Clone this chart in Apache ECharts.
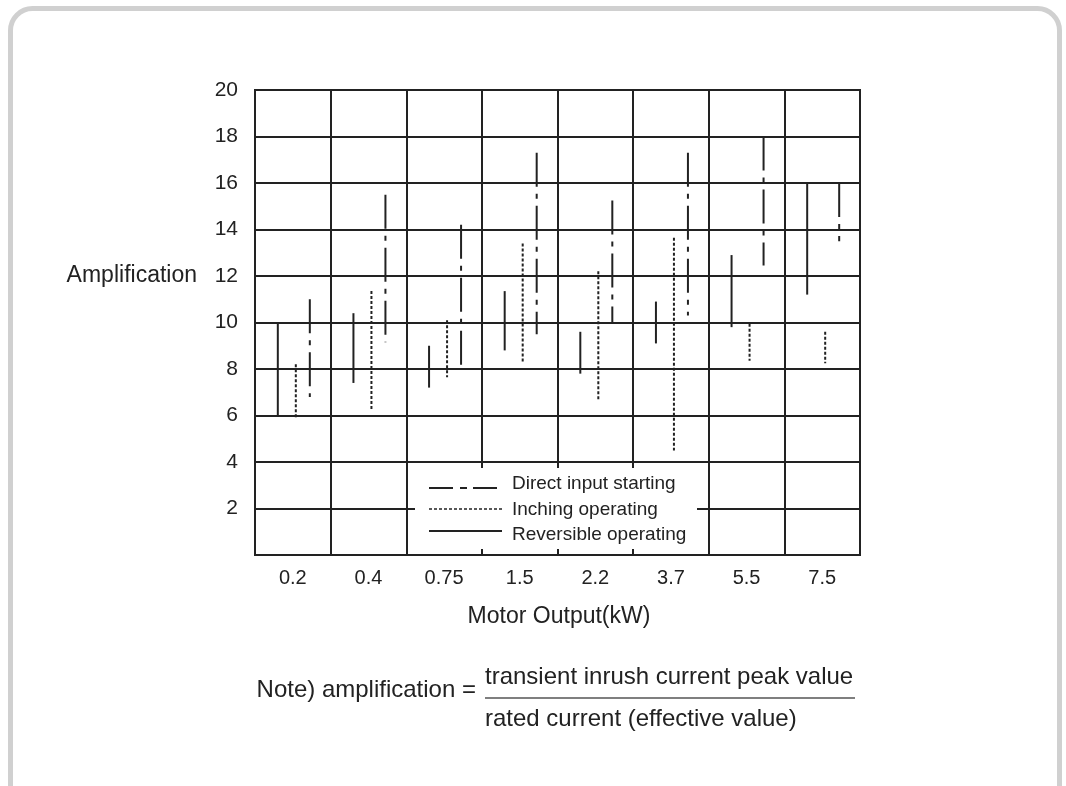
<!DOCTYPE html>
<html lang="en">
<head>
    <meta charset="utf-8">
    <title>Amplification vs Motor Output</title>
    <style>
        html, body { margin: 0; padding: 0; background: #fff; }
    </style>
</head>
<body>
    <div id="main" style="width:1066px;height:786px;"></div>

    <script src="https://cdn.jsdelivr.net/npm/echarts@6/dist/echarts.min.js"></script>
    <script type="text/javascript">

        var myChart = echarts.init(document.getElementById('main'));

        // data
        var categories = ['0.2', '0.4', '0.75', '1.5', '2.2', '3.7', '5.5', '7.5'];
        var yTicks = [2, 4, 6, 8, 10, 12, 14, 16, 18, 20];

        // Reversible operating (solid)
        var reversibleLow  = [6.0, 7.4, 7.2, 8.8, 7.8, 9.1, 9.8, 11.2];
        var reversibleHigh = [10.0, 10.4, 9.0, 11.35, 9.6, 10.9, 12.9, 16.0];
        // Inching operating (dotted)
        var inchingLow  = [5.9, 6.25, 7.65, 8.25, 6.65, 4.5, 8.35, 8.25];
        var inchingHigh = [8.2, 11.35, 10.1, 13.4, 12.2, 13.65, 9.95, 9.6];
        // Direct input starting (dash-dot)
        var directLow  = [6.8, 9.15, 7.9, 9.5, 10.0, 10.3, 12.45, 13.5];
        var directHigh = [11.0, 15.5, 14.2, 17.3, 15.25, 17.3, 18.0, 16.0];

        var ink = '#222';
        var font = "'Liberation Sans', Arial, sans-serif";

        function toData(lo, hi) {
            var out = [];
            for (var i = 0; i < lo.length; i++) out.push([i, lo[i], hi[i]]);
            return out;
        }

        // draws a vertical range line, shifted sideways inside the category band
        function rangeRender(offset, dash, width) {
            return function (params, api) {
                var x = api.value(0);
                var lo = api.coord([x, api.value(1)]);
                var hi = api.coord([x, api.value(2)]);
                return {
                    type: 'line',
                    shape: { x1: hi[0] + offset, y1: hi[1], x2: lo[0] + offset, y2: lo[1] },
                    style: { stroke: ink, lineWidth: width, lineDash: dash, fill: null }
                };
            };
        }

        var option = {
            backgroundColor: '#fff',
            animation: false,
            grid: {
                show: true,
                left: 255,
                top: 90,
                width: 605,
                height: 465,
                borderColor: ink,
                borderWidth: 2
            },
            xAxis: {
                type: 'category',
                data: categories,
                boundaryGap: true,
                axisLine: { show: true, lineStyle: { color: ink, width: 2 } },
                axisTick: { show: false },
                splitLine: { show: true, lineStyle: { color: ink, width: 2 } },
                axisLabel: {
                    color: ink,
                    fontFamily: font,
                    fontSize: 20,
                    margin: 13
                }
            },
            yAxis: {
                type: 'value',
                min: 0,
                max: 20,
                interval: 2,
                axisLine: { show: true, lineStyle: { color: ink, width: 2 } },
                axisTick: { show: false },
                splitLine: { show: true, lineStyle: { color: ink, width: 2 } },
                axisLabel: {
                    color: ink,
                    fontFamily: font,
                    fontSize: 21,
                    margin: 17,
                    formatter: function (v) {
                        return yTicks.indexOf(v) >= 0 ? String(v) : '';
                    }
                }
            },
            series: [{
                name: 'Reversible operating',
                type: 'custom',
                renderItem: rangeRender(-15, null, 2),
                encode: { x: 0, y: [1, 2] },
                data: toData(reversibleLow, reversibleHigh),
                z: 5
            }, {
                name: 'Inching operating',
                type: 'custom',
                renderItem: rangeRender(3, [3, 2], 2),
                encode: { x: 0, y: [1, 2] },
                data: toData(inchingLow, inchingHigh),
                z: 5
            }, {
                name: 'Direct input starting',
                type: 'custom',
                renderItem: rangeRender(17, [34, 7, 5, 7], 2),
                encode: { x: 0, y: [1, 2] },
                data: toData(directLow, directHigh),
                z: 5
            }],
            graphic: [
                // rounded frame
                {
                    type: 'rect',
                    shape: { x: 10.5, y: 8.5, width: 1049, height: 800, r: 22 },
                    style: { fill: null, stroke: '#d0d0d0', lineWidth: 5 },
                    z: 1
                },
                // y axis name
                {
                    type: 'text',
                    x: 197, y: 276,
                    style: { text: 'Amplification', font: '23px ' + font, fill: ink, align: 'right', verticalAlign: 'middle' },
                    z: 10
                },
                // x axis name
                {
                    type: 'text',
                    x: 559, y: 617,
                    style: { text: 'Motor Output(kW)', font: '23px ' + font, fill: ink, align: 'center', verticalAlign: 'middle' },
                    z: 10
                },
                // legend box
                {
                    type: 'group',
                    z: 100,
                    children: [
                        {
                            type: 'rect',
                            shape: { x: 415, y: 468, width: 282, height: 81 },
                            style: { fill: '#fff', stroke: null },
                            z: 100
                        },
                        {
                            type: 'line',
                            shape: { x1: 429, y1: 488, x2: 502, y2: 488 },
                            style: { stroke: ink, lineWidth: 2, lineDash: [24, 7, 7, 6] },
                            z: 101
                        },
                        {
                            type: 'line',
                            shape: { x1: 429, y1: 509, x2: 502, y2: 509 },
                            style: { stroke: ink, lineWidth: 1.5, lineDash: [3, 2] },
                            z: 101
                        },
                        {
                            type: 'line',
                            shape: { x1: 429, y1: 531, x2: 502, y2: 531 },
                            style: { stroke: ink, lineWidth: 2 },
                            z: 101
                        },
                        {
                            type: 'text', x: 512, y: 484, z: 101,
                            style: { text: 'Direct input starting', font: '19px ' + font, fill: ink, verticalAlign: 'middle' }
                        },
                        {
                            type: 'text', x: 512, y: 510, z: 101,
                            style: { text: 'Inching operating', font: '19px ' + font, fill: ink, verticalAlign: 'middle' }
                        },
                        {
                            type: 'text', x: 512, y: 535, z: 101,
                            style: { text: 'Reversible operating', font: '19px ' + font, fill: ink, verticalAlign: 'middle' }
                        }
                    ]
                },
                // note
                {
                    type: 'text',
                    x: 476, y: 690,
                    style: { text: 'Note) amplification =', font: '24px ' + font, fill: ink, align: 'right', verticalAlign: 'middle' },
                    z: 10
                },
                {
                    type: 'text',
                    x: 485, y: 677,
                    style: { text: 'transient inrush current peak value', font: '24px ' + font, fill: ink, verticalAlign: 'middle' },
                    z: 10
                },
                {
                    type: 'line',
                    shape: { x1: 485, y1: 698, x2: 855, y2: 698 },
                    style: { stroke: '#555', lineWidth: 1.5 },
                    z: 10
                },
                {
                    type: 'text',
                    x: 485, y: 719,
                    style: { text: 'rated current (effective value)', font: '24px ' + font, fill: ink, verticalAlign: 'middle' },
                    z: 10
                }
            ]
        };

        myChart.setOption(option);
    </script>
</body>
</html>
